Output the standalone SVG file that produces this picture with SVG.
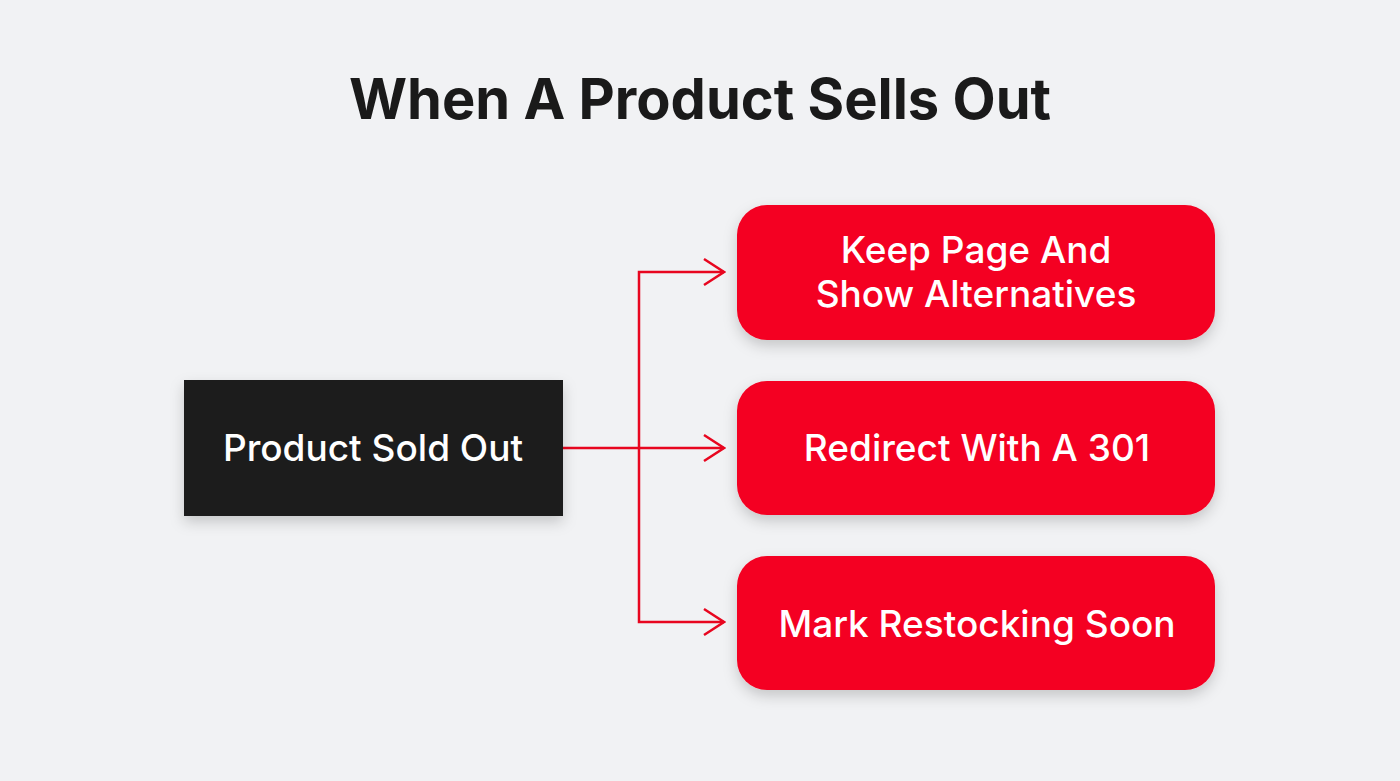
<svg xmlns="http://www.w3.org/2000/svg" width="1400" height="781" viewBox="0 0 1400 781">
<style>
.t{font-family:Inter,"Noto Sans","Liberation Sans",sans-serif;fill:#fff;font-size:37px;font-weight:500;text-anchor:middle}
.title{font-family:Inter,"Noto Sans","Liberation Sans",sans-serif;fill:#1a1a1a;font-size:56px;font-weight:700;text-anchor:middle}
.red{fill:#f40321}
.conn{fill:none;stroke:#e8061f;stroke-width:2.5}
</style>
<defs>
<filter id="sh" x="-20%" y="-30%" width="140%" height="170%">
<feDropShadow dx="0" dy="6" stdDeviation="7" flood-color="#000" flood-opacity="0.18"/>
</filter>
<marker id="arr" viewBox="0 0 24 30" refX="22" refY="15" markerWidth="24" markerHeight="30" markerUnits="userSpaceOnUse" orient="auto">
<path d="M2,2 L22,15 L2,28" fill="none" stroke="#e8061f" stroke-width="2.5"/>
</marker>
</defs>
<rect width="1400" height="781" fill="#f1f2f4"/>
<text class="title" x="700" y="119">When A Product Sells Out</text>
<g id="connectors">
<path class="conn" d="M563,448 H724" marker-end="url(#arr)"/>
<path class="conn" d="M639,448 V272 H724" marker-end="url(#arr)"/>
<path class="conn" d="M639,448 V622 H724" marker-end="url(#arr)"/>
</g>
<g id="n-sold">
<rect x="184" y="380" width="379" height="136" fill="#1b1a1a" filter="url(#sh)"/>
<text class="t" x="373" y="461">Product Sold Out</text>
</g>
<g id="n-keep">
<rect class="red" x="737" y="205" width="478" height="135" rx="30" filter="url(#sh)"/>
<text class="t" x="976" y="263">Keep Page And</text>
<text class="t" x="976" y="307">Show Alternatives</text>
</g>
<g id="n-redirect">
<rect class="red" x="737" y="381" width="478" height="134" rx="30" filter="url(#sh)"/>
<text class="t" x="977" y="461">Redirect With A 301</text>
</g>
<g id="n-mark">
<rect class="red" x="737" y="556" width="478" height="134" rx="30" filter="url(#sh)"/>
<text class="t" x="977" y="637">Mark Restocking Soon</text>
</g>
</svg>
